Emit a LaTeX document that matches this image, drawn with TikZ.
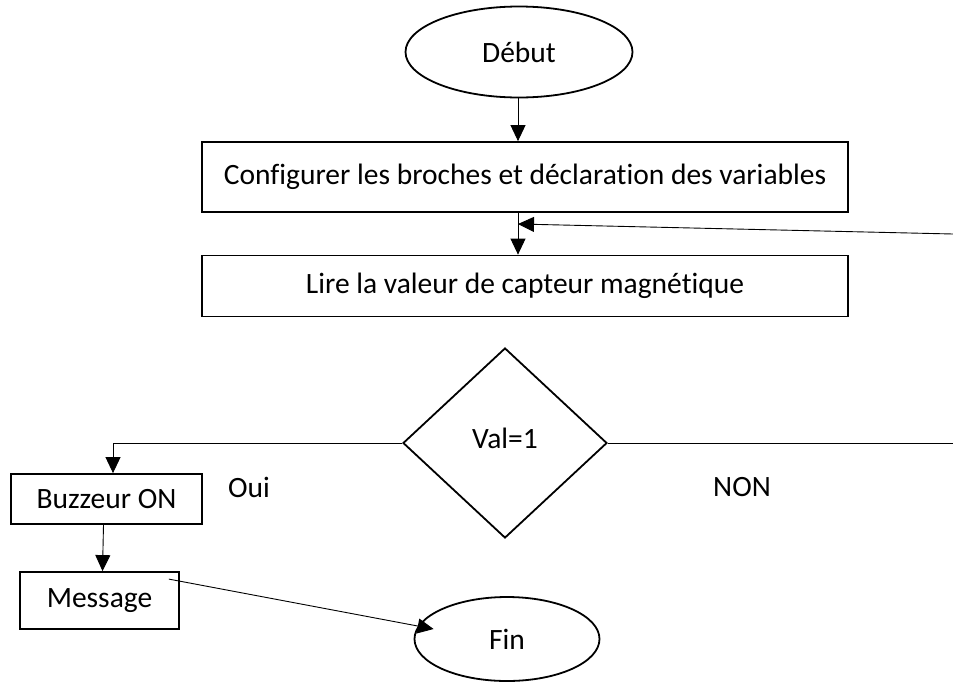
\documentclass[tikz,border=0pt]{standalone}
\usepackage{fontspec}
\setmainfont{Carlito}[Ligatures=CommonOff]
\usetikzlibrary{shapes.geometric,arrows.meta,calc}

\begin{document}
\begin{tikzpicture}[
    x=1pt, y=-1pt,
    every node/.style={font=\fontsize{29.5}{35}\selectfont},
    terminal/.style={draw, ellipse, line width=1.8pt, inner sep=0pt},
    process/.style={draw, rectangle, line width=1.8pt, inner sep=0pt},
    decision/.style={draw, diamond, line width=1.8pt, inner sep=0pt,
                     minimum width=204pt, minimum height=190pt},
    conn/.style={line width=0.9pt},
    arr/.style={conn, -{Triangle[length=16pt, width=15pt]}}
]

% --- page ---
\fill[white] (0,0) rectangle (953,681);
\useasboundingbox (0,0) rectangle (953,681);

% --- start / end ---
\node[terminal, minimum width=227pt, minimum height=91pt] (debut) at (519,52) {Début};
\node[terminal, minimum width=185pt, minimum height=84pt] (fin) at (507,639) {\raisebox{-3pt}{Fin}};

% --- steps ---
\node[process, minimum width=646pt, minimum height=70pt] (config) at (525,177)
    {Configurer les broches et déclaration des variables};
\node[process, minimum width=646pt, minimum height=61pt] (lire) at (525,286)
    {Lire la valeur de capteur magnétique};
\node[decision] (test) at (505,443) {\raisebox{10pt}{Val=1}};
\node[process, minimum width=191pt, minimum height=50pt] (buzz) at (106.5,499)
    {\raisebox{-6pt}{Buzzeur ON}\hspace{8pt}};
\node[process, minimum width=159pt, minimum height=57pt] (msg) at (99.5,600.5)
    {\raisebox{-3pt}{Message}\hspace{10pt}};

% --- branch labels ---
\node (oui) at (249,487) {Oui};
\node (non) at (742,487) {NON};

% --- helper points ---
\coordinate (jonction) at (518,224);
\coordinate (retour) at (953,234);
\coordinate (coude) at (113,443);
\coordinate (sortie) at (953,443);

% --- connections ---
\draw[arr] (debut.south -| jonction) -- (config.north -| jonction);
\draw[conn] (config.south -| jonction) -- (jonction);
\draw[arr] (jonction) -- (lire.north -| jonction);
\draw[arr] (retour) -- (jonction);
\draw[conn] (test.east) -- (sortie);
\draw[arr] (test.west) -- (coude) -- (buzz.north -| coude);
\draw[arr] ($(buzz.south)+(-3,0)$) -- ($(msg.north)+(3,0)$);
\draw[arr] ($(msg.north east)+(-11,8)$) -- ($(fin.west)+(20,-10)$);

\end{tikzpicture}
\end{document}
